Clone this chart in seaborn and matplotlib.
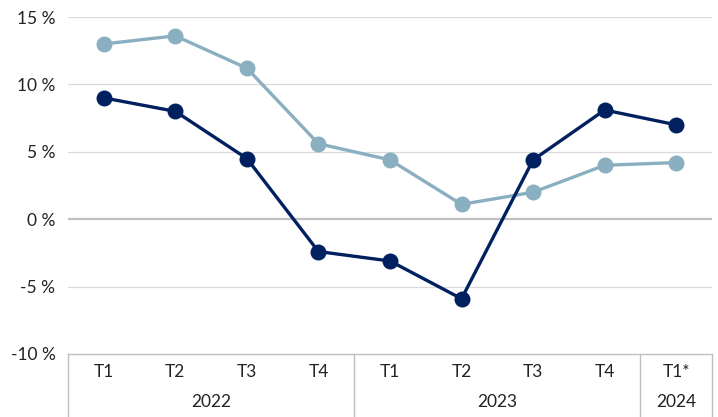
import numpy as np
import pandas as pd
import seaborn as sns
import matplotlib.pyplot as plt
import matplotlib.transforms as mtransforms

sns.set_theme(style="white")
plt.rcParams['font.family'] = ['Lato', 'DejaVu Sans']

quarters = ["T1", "T2", "T3", "T4", "T1", "T2", "T3", "T4", "T1*"]
years = ["2022", "2023", "2024"]
year_sizes = [4, 4, 1]
serie_fonce = [9.0, 8.0, 4.5, -2.4, -3.1, -5.9, 4.4, 8.1, 7.0]
serie_clair = [13.0, 13.6, 11.2, 5.6, 4.4, 1.1, 2.0, 4.0, 4.2]

DARK = "#002060"
LIGHT = "#8AAFC1"

df = pd.DataFrame({
    "pos": list(range(len(quarters))) * 2,
    "valeur": serie_clair + serie_fonce,
    "serie": ["clair"] * len(quarters) + ["fonce"] * len(quarters),
})

fig = plt.figure(figsize=(7.18, 4.17), dpi=100)
ax = fig.add_axes([68 / 718, 1 - 354 / 417, (712 - 68) / 718, (354 - 17) / 417])

sns.lineplot(data=df, x="pos", y="valeur", hue="serie",
             palette={"clair": LIGHT, "fonce": DARK},
             marker="o", markersize=11.5, markeredgewidth=0,
             linewidth=2.4, legend=False, ax=ax, zorder=3)

ax.set_xlim(-0.5, len(quarters) - 0.5)
ax.set_ylim(-10, 15)
ax.set_yticks(np.arange(-10, 16, 5))
ax.set_yticklabels([f"{v} %" for v in range(-10, 16, 5)], fontsize=12.5, color="#222222")
ax.tick_params(axis="y", length=0, pad=9)
ax.set_xticks([])
ax.set_xlabel("")
ax.set_ylabel("")

for v in range(-5, 16, 5):
    if v == 0:
        ax.axhline(v, color="#BFBFBF", linewidth=1.6, zorder=1)
    else:
        ax.axhline(v, color="#D9D9D9", linewidth=0.9, zorder=1)

for s in ["top", "right", "left"]:
    ax.spines[s].set_visible(False)
ax.spines["bottom"].set_color("#BFBFBF")
ax.spines["bottom"].set_linewidth(1.0)

# category axis box
trans = mtransforms.blended_transform_factory(ax.transData, ax.transAxes)
bottom = -63 / 337
bounds = [-0.5]
for n in year_sizes:
    bounds.append(bounds[-1] + n)
for b in bounds:
    ax.plot([b, b], [0, bottom], transform=trans, color="#BFBFBF",
            linewidth=1.0, clip_on=False)

for i, q in enumerate(quarters):
    ax.text(i, -18 / 337, q, transform=trans, ha="center", va="center",
            fontsize=12.5, color="#222222")
for j, y in enumerate(years):
    mid = (bounds[j] + bounds[j + 1]) / 2
    ax.text(mid, -48 / 337, y, transform=trans, ha="center", va="center",
            fontsize=12.5, color="#222222")

fig.savefig("out.png", dpi=100)
